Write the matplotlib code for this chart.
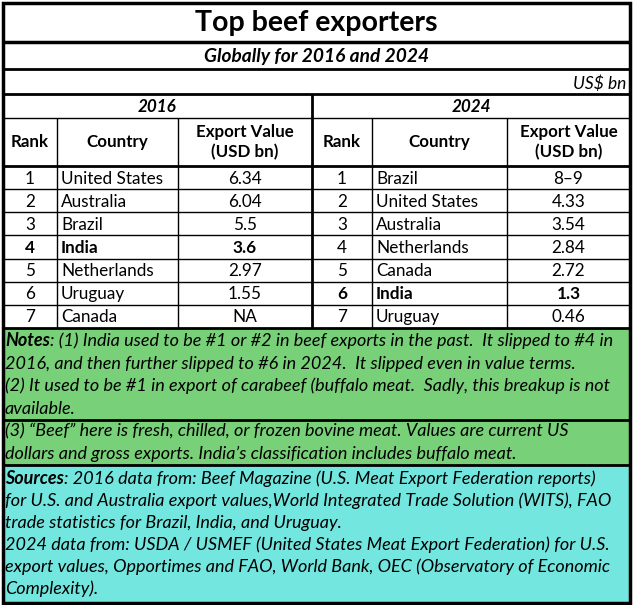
"""
Top beef exporters table, drawn with matplotlib.
"""

import matplotlib
matplotlib.use("Agg")
import matplotlib.pyplot as plt
from matplotlib.patches import Rectangle

plt.rcParams['font.family'] = ['Lato', 'DejaVu Sans']

TITLE = "Top beef exporters"
SUBTITLE = "Globally for 2016 and 2024"
UNIT = "US$ bn"
YEARS = ["2016", "2024"]
HEADERS = ["Rank", "Country", "Export Value\n(USD bn)"]
RANKS = ["1", "2", "3", "4", "5", "6", "7"]
COUNTRIES_2016 = ["United States", "Australia", "Brazil", "India",
                  "Netherlands", "Uruguay", "Canada"]
VALUES_2016 = ["6.34", "6.04", "5.5", "3.6", "2.97", "1.55", "NA"]
COUNTRIES_2024 = ["Brazil", "United States", "Australia", "Netherlands",
                  "Canada", "India", "Uruguay"]
VALUES_2024 = ["8\u20139", "4.33", "3.54", "2.84", "2.72", "1.3", "0.46"]
HIGHLIGHT = "India"

NOTES_HEAD = "Notes"
NOTES_LINES = [
    ": (1) India used to be #1 or #2 in beef exports in the past.  It slipped to #4 in",
    "2016, and then further slipped to #6 in 2024.  It slipped even in value terms.",
    "(2) It used to be #1 in export of carabeef (buffalo meat.  Sadly, this breakup is not",
    "available.",
]
NOTE3_LINES = [
    "(3) \u201cBeef\u201d here is fresh, chilled, or frozen bovine meat. Values are current US",
    "dollars and gross exports. India\u2019s classification includes buffalo meat.",
]
SOURCES_HEAD = "Sources"
SOURCES_LINES = [
    ": 2016 data from: Beef Magazine (U.S. Meat Export Federation reports)",
    "for U.S. and Australia export values,World Integrated Trade Solution (WITS), FAO",
    "trade statistics for Brazil, India, and Uruguay.",
    "2024 data from: USDA / USMEF (United States Meat Export Federation) for U.S.",
    "export values, Opportimes and FAO, World Bank, OEC (Observatory of Economic",
    "Complexity).",
]

# layout, in pixels (axes runs 1:1 with the picture)
W, H = 633, 605
LEFT, RIGHT, TOP, BOTTOM = 3, 630, 3, 603
Y_TITLE, Y_SUB, Y_UNIT, Y_YEAR, Y_HEAD = 42, 69, 94, 118, 166
Y_TABLE, Y_NOTE_SEP, Y_SRC = 328, 420, 465
ROW_H = (Y_TABLE - Y_HEAD) / len(RANKS)
BLOCKS = [[3, 57, 178, 312], [312, 372, 507, 630]]
GREEN = "#78d078"
CYAN = "#73e6df"
THICK = 2.0
THIN = 1.0
BODY = 12.3
HEAD = 12.2
NOTE = 13.0


def hline(ax, y, lw, x0=LEFT, x1=RIGHT):
    ax.plot([x0, x1], [y, y], color="black", lw=lw, solid_capstyle="butt")


def vline(ax, x, y0, y1, lw):
    ax.plot([x, x], [y0, y1], color="black", lw=lw, solid_capstyle="butt")


def mixed_line(ax, renderer, x, y, head, rest, size):
    """Bold-italic head word followed by italic text on one line."""
    t = ax.text(x, y, head, fontsize=size, fontweight="bold", style="italic",
                va="center", ha="left")
    ext = t.get_window_extent(renderer)
    ax.text(x + ext.width, y, rest, fontsize=size, style="italic",
            va="center", ha="left")


fig = plt.figure(figsize=(W / 100, H / 100), dpi=100)
ax = fig.add_axes([0, 0, 1, 1])
ax.set_xlim(0, W)
ax.set_ylim(H, 0)
ax.axis("off")
renderer = fig.canvas.get_renderer()

# coloured note boxes
ax.add_patch(Rectangle((LEFT, Y_TABLE), RIGHT - LEFT, Y_SRC - Y_TABLE,
                       facecolor=GREEN, edgecolor="none"))
ax.add_patch(Rectangle((LEFT, Y_SRC), RIGHT - LEFT, BOTTOM - Y_SRC,
                       facecolor=CYAN, edgecolor="none"))

# title rows
ax.text(W / 2, (TOP + Y_TITLE) / 2 + 1, TITLE, fontsize=20.5, fontweight="bold",
        ha="center", va="center")
ax.text(W / 2, (Y_TITLE + Y_SUB) / 2 + 1, SUBTITLE, fontsize=13.8,
        fontweight="bold", style="italic", ha="center", va="center")
ax.text(RIGHT - 4, (Y_SUB + Y_UNIT) / 2 + 2, UNIT, fontsize=12.5,
        style="italic", ha="right", va="center")

tables = [(COUNTRIES_2016, VALUES_2016), (COUNTRIES_2024, VALUES_2024)]
for block, year, (countries, values) in zip(BLOCKS, YEARS, tables):
    x0, x1, x2, x3 = block
    ax.text((x0 + x3) / 2, (Y_UNIT + Y_YEAR) / 2 + 1, year, fontsize=BODY,
            fontweight="bold", style="italic", ha="center", va="center")
    centres = [(x0 + x1) / 2, (x1 + x2) / 2, (x2 + x3) / 2]
    for cx, head in zip(centres, HEADERS):
        ax.text(cx, (Y_YEAR + Y_HEAD) / 2, head, fontsize=HEAD,
                fontweight="bold", ha="center", va="center",
                multialignment="center", linespacing=1.3)
    for i, (rank, country, value) in enumerate(zip(RANKS, countries, values)):
        y = Y_HEAD + ROW_H * (i + 0.5) + 1
        weight = "bold" if country == HIGHLIGHT else "normal"
        ax.text(centres[0], y, rank, fontsize=BODY, fontweight=weight,
                ha="center", va="center")
        ax.text(x1 + 4, y, country, fontsize=BODY, fontweight=weight,
                ha="left", va="center")
        ax.text(centres[2], y, value, fontsize=BODY, fontweight=weight,
                ha="center", va="center")
    for xc in (x1, x2):
        vline(ax, xc, Y_YEAR, Y_TABLE, THIN)

# grid lines
hline(ax, Y_TITLE, 2.5)
hline(ax, Y_SUB, THICK)
hline(ax, Y_UNIT, THICK)
hline(ax, Y_YEAR, THIN)
hline(ax, Y_HEAD, THICK)
for i in range(1, len(RANKS)):
    hline(ax, Y_HEAD + ROW_H * i, THIN)
hline(ax, Y_TABLE, THICK)
hline(ax, Y_NOTE_SEP, THICK)
hline(ax, Y_SRC, THICK)
vline(ax, BLOCKS[1][0], Y_UNIT, Y_TABLE, THICK)
ax.add_patch(Rectangle((LEFT, TOP), RIGHT - LEFT, BOTTOM - TOP,
                       facecolor="none", edgecolor="black", lw=2.5))

# notes
NOTE_X = 5
NOTE_STEP = 22.5
mixed_line(ax, renderer, NOTE_X, Y_TABLE + 13, NOTES_HEAD, NOTES_LINES[0], NOTE)
for i, line in enumerate(NOTES_LINES[1:], start=1):
    ax.text(NOTE_X, Y_TABLE + 13 + NOTE_STEP * i, line, fontsize=NOTE,
            style="italic", ha="left", va="center")
for i, line in enumerate(NOTE3_LINES):
    ax.text(NOTE_X, Y_NOTE_SEP + 11 + NOTE_STEP * i, line, fontsize=NOTE,
            style="italic", ha="left", va="center")
mixed_line(ax, renderer, NOTE_X, Y_SRC + 14, SOURCES_HEAD, SOURCES_LINES[0], NOTE)
for i, line in enumerate(SOURCES_LINES[1:], start=1):
    ax.text(NOTE_X, Y_SRC + 14 + 22 * i, line, fontsize=NOTE,
            style="italic", ha="left", va="center")

fig.savefig("out.png", dpi=100, facecolor="white")
plt.close(fig)
